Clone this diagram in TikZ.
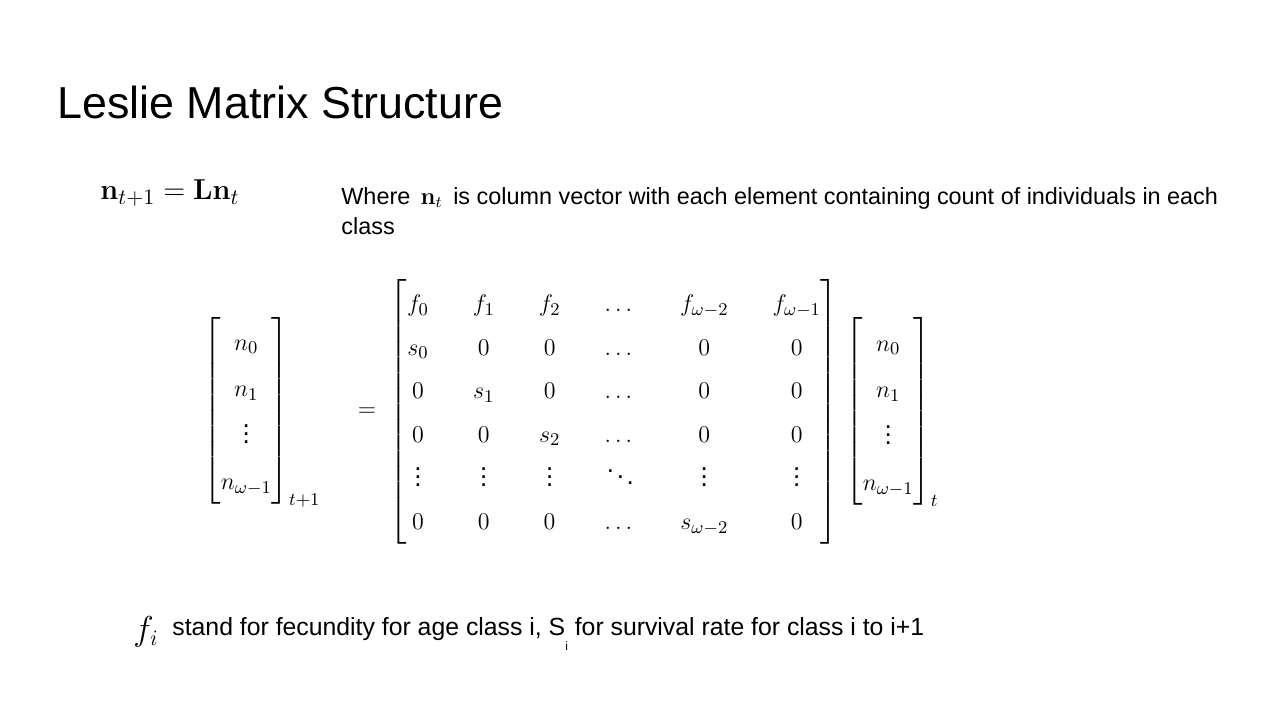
\documentclass[tikz,border=0pt]{standalone}
\usepackage{amsmath}
\usepackage{amssymb}
\usepackage[no-math]{fontspec}
\setmainfont{Liberation Sans}
\usetikzlibrary{positioning}
\tikzset{txt/.style={anchor=west, inner sep=0pt, font=\fontsize{11.7}{14}\selectfont},
  mat/.style={inner sep=0pt, font=\fontsize{13}{15}\selectfont}}
\begin{document}
\begin{tikzpicture}[x=0.5pt, y=-0.5pt]
\fill[white] (0,0) rectangle (1280,720);
\useasboundingbox (0,0) rectangle (1280,720);
\node (title) [anchor=west, inner sep=0pt, font=\fontsize{22.4}{26}\selectfont] at (57, 102) {Leslie Matrix Structure};
\node (eq) [anchor=west, inner sep=0pt, font=\fontsize{15}{17}\selectfont] at (100, 193) {$\mathbf{n}_{t+1}=\mathbf{L}\mathbf{n}_t$};
\node (where) [txt] at (341, 198) {Where \,$\mathbf{n}_t$\, is column vector with each element containing count of individuals in each};
\node (cls) [txt] at (341, 226) {class};
\node (lhs) [mat] at (262, 412) {$\renewcommand{\arraystretch}{1.55}\begin{bmatrix} n_0\\ n_1\\ \vdots\\ n_{\omega-1}\end{bmatrix}_{t+1}$};
\node (eqs) [mat] at (367, 412) {$=$};
\node (L) [mat] at (614, 412) {$\setlength{\arraycolsep}{11pt}\renewcommand{\arraystretch}{1.45}\begin{bmatrix}
f_0 & f_1 & f_2 & \dots & f_{\omega-2} & f_{\omega-1}\\
s_0 & 0 & 0 & \dots & 0 & 0\\
0 & s_1 & 0 & \dots & 0 & 0\\
0 & 0 & s_2 & \dots & 0 & 0\\
\vdots & \vdots & \vdots & \ddots & \vdots & \vdots\\
0 & 0 & 0 & \dots & s_{\omega-2} & 0\end{bmatrix}$};
\node (rhs) [mat] at (892, 412) {$\renewcommand{\arraystretch}{1.55}\begin{bmatrix} n_0\\ n_1\\ \vdots\\ n_{\omega-1}\end{bmatrix}_{t}$};
\node (fi) [anchor=west, inner sep=0pt, font=\fontsize{16}{18}\selectfont] at (133, 632) {$f_i$};
\node (note) [anchor=west, inner sep=0pt, font=\fontsize{12.4}{15}\selectfont] at (172, 634) {stand for fecundity for age class i, S\raisebox{-1.2ex}{\fontsize{6}{7}\selectfont i} for survival rate for class i to i+1};
\end{tikzpicture}
\end{document}
